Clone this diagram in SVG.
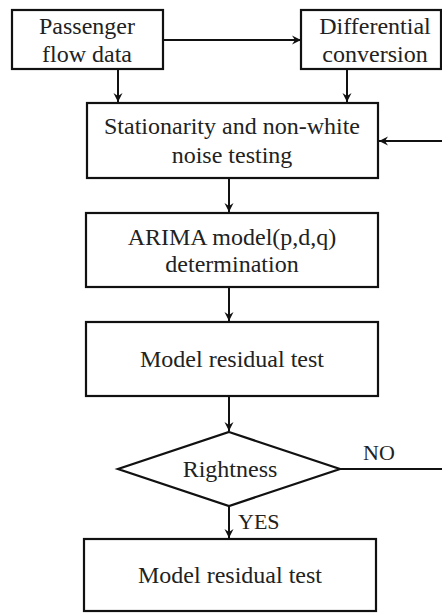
<svg xmlns="http://www.w3.org/2000/svg" width="442" height="614" viewBox="0 0 442 614">
<defs>
<marker id="ah" markerWidth="12" markerHeight="12" refX="10" refY="6" orient="auto" markerUnits="userSpaceOnUse">
<path d="M1,1.5 L10,6 L1,10.5 L4,6 Z" fill="#111"/>
</marker>
</defs>
<style>
.box{fill:#fff;stroke:#111;stroke-width:2.2}
.t{font-family:"Liberation Serif","Times New Roman",serif;font-size:24px;fill:#222;text-anchor:middle}
.l{font-family:"Liberation Serif","Times New Roman",serif;font-size:22px;fill:#222}
.c{fill:none;stroke:#111;stroke-width:2;marker-end:url(#ah)}
.cn{fill:none;stroke:#111;stroke-width:2}
</style>
<rect width="442" height="614" fill="#fff"/>
<g id="passenger">
<rect class="box" x="12" y="10" width="151" height="59"/>
<text class="t" x="87" y="34">Passenger</text>
<text class="t" x="87" y="62">flow data</text>
</g>
<g id="differential">
<rect class="box" x="301" y="10" width="140" height="59"/>
<text class="t" x="375" y="34">Differential</text>
<text class="t" x="375" y="62">conversion</text>
</g>
<g id="stationarity">
<rect class="box" x="87" y="103" width="291" height="75"/>
<text class="t" x="232" y="134">Stationarity and non-white</text>
<text class="t" x="232" y="163">noise testing</text>
</g>
<g id="arima">
<rect class="box" x="86" y="213" width="292" height="74"/>
<text class="t" x="232" y="245">ARIMA model(p,d,q)</text>
<text class="t" x="232" y="272">determination</text>
</g>
<g id="residual1">
<rect class="box" x="86" y="322" width="292" height="74"/>
<text class="t" x="232" y="367">Model residual test</text>
</g>
<g id="rightness">
<polygon class="box" points="229,432 340,469 229,506 118,469"/>
<text class="t" x="230" y="477">Rightness</text>
</g>
<g id="residual2">
<rect class="box" x="84" y="539" width="292" height="72"/>
<text class="t" x="230" y="583">Model residual test</text>
</g>
<g id="connectors">
<path class="c" d="M163,40 H301"/>
<path class="c" d="M118,69 V102"/>
<path class="c" d="M347,69 V102"/>
<path class="c" d="M229,178 V212"/>
<path class="c" d="M229,287 V321"/>
<path class="c" d="M229,396 V431"/>
<path class="c" d="M229,506 V538"/>
<path class="cn" d="M340,469 H442"/>
<path class="c" d="M442,141 H379"/>
<text class="l" x="363" y="460">NO</text>
<text class="l" x="238" y="529">YES</text>
</g>
</svg>
